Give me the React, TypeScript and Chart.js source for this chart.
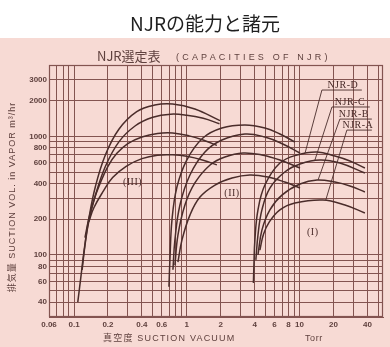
import { useEffect, useRef } from 'react';
import { Chart, registerables } from 'chart.js';

Chart.register(...registerables);

// Capacity curves: [suction vacuum (Torr), suction volume (m³/hr)]
// Range (III)
const njrD_III = [[0.108, 40], [0.115, 65], [0.123, 110], [0.135, 200], [0.155, 380], [0.19, 700], [0.25, 1150], [0.36, 1620], [0.52, 1840], [0.75, 1875], [1.18, 1700], [1.97, 1360]];
const njrC_III = [[0.118, 75], [0.125, 120], [0.135, 190], [0.155, 320], [0.19, 560], [0.25, 900], [0.35, 1230], [0.5, 1450], [0.72, 1540], [1.0, 1510], [1.4, 1420], [1.95, 1280]];
const njrB_III = [[0.125, 140], [0.135, 200], [0.15, 290], [0.17, 400], [0.2, 560], [0.24, 720], [0.3, 870], [0.4, 990], [0.55, 1060], [0.75, 1070], [1.05, 1010], [1.45, 920], [1.85, 840]];
const njrA_III = [[0.135, 190], [0.15, 250], [0.18, 340], [0.22, 450], [0.29, 560], [0.4, 650], [0.55, 695], [0.75, 700], [1.0, 680], [1.4, 630], [1.85, 575]];

// Range (II)
const njrD_II = [[0.695, 54], [0.709, 91], [0.739, 197], [0.818, 374], [1.0, 632], [1.39, 969], [2.05, 1177], [3.28, 1246], [4.93, 1177], [6.7, 1047], [9.1, 897]];
const njrC_II = [[0.754, 75], [0.785, 134], [0.87, 264], [1.067, 473], [1.45, 739], [2.05, 932], [3.28, 1047], [4.93, 988], [7.1, 863], [10.1, 724]];
const njrB_II = [[0.785, 82], [0.835, 147], [0.963, 264], [1.18, 405], [1.61, 574], [2.18, 670], [3.15, 724], [4.64, 697], [6.7, 632], [10.1, 541]];
const njrA_II = [[0.835, 87], [0.907, 134], [1.067, 217], [1.31, 308], [1.78, 389], [2.52, 446], [3.63, 473], [5.24, 455], [7.4, 412], [10.1, 367]];

// Range (I)
const njrD_I = [[3.9, 58], [3.94, 82], [4.02, 134], [4.28, 240], [4.93, 389], [6.7, 596], [9.5, 697], [14.3, 739], [20.6, 683], [28, 620], [38, 541]];
const njrC_I = [[4.1, 91], [4.28, 147], [4.64, 240], [5.46, 367], [7.4, 501], [10.1, 585], [15.2, 632], [22.8, 596], [38, 491]];
const njrB_I = [[4.28, 100], [4.64, 162], [5.46, 240], [6.98, 320], [10.1, 397], [14.3, 429], [20.6, 412], [28, 382], [38, 340]];
const njrA_I = [[4.45, 110], [4.8, 150], [5.4, 190], [6.7, 240], [9.1, 274], [16.1, 291], [25.3, 264], [38, 226]];

// Leader lines from the model names down to the range (I) curves
const leaderD = [[11.2, 724], [15.8, 2460], [35.7, 2460]];
const leaderC = [[13.7, 632], [19.4, 1770], [42, 1770]];
const leaderB = [[14.6, 429], [22.8, 1400], [43.8, 1400]];
const leaderA = [[17.1, 291], [26.3, 1130], [43.8, 1130]];

const modelNames = ['NJR-D', 'NJR-C', 'NJR-B', 'NJR-A'];
const rangeNames = ['(III)', '(II)', '(I)'];

// Log grid of the chart paper and the values that carry a printed label
const xGrid = [0.06, 0.07, 0.08, 0.09, 0.1, 0.2, 0.3, 0.4, 0.5, 0.6, 0.7, 0.8, 0.9, 1, 2, 3, 4, 5, 6, 7, 8, 9, 10, 20, 30, 40, 50];
const xLabels = [0.06, 0.1, 0.2, 0.4, 0.6, 1, 2, 4, 6, 8, 10, 20, 40];
const yGrid = [30, 40, 50, 60, 70, 80, 90, 100, 200, 300, 400, 500, 600, 700, 800, 900, 1000, 2000, 3000, 4000];
const yLabels = [40, 60, 80, 100, 200, 400, 600, 800, 1000, 2000, 3000];

const PAPER = '#f7dad4';
const GRID = '#835450';
const INK = '#4a2c2a';
const TEXT = '#5f413e';

const toPoints = (arr: number[][]) => arr.map(([x, y]) => ({ x, y }));

const curve = (data: number[][]) => ({
  data: toPoints(data),
  borderColor: INK,
  borderWidth: 1.5,
  pointRadius: 0,
  fill: false,
  tension: 0.4,
});

const leader = (data: number[][]) => ({
  data: toPoints(data),
  borderColor: INK,
  borderWidth: 0.9,
  pointRadius: 0,
  fill: false,
  tension: 0,
});

// where the model names and range names sit, in chart values
const modelNameAt = [[24.2, 2460], [28, 1770], [30.3, 1400], [32.9, 1130]];
const rangeNameAt = [[0.33, 412], [2.52, 333], [13.1, 156]];

const paperPlugin = {
  id: 'paper',
  beforeDraw(chart: any) {
    const { ctx, width, height } = chart;
    ctx.save();
    ctx.fillStyle = '#ffffff';
    ctx.fillRect(0, 0, width, height);
    ctx.fillStyle = PAPER;
    ctx.fillRect(0, 38, width, height - 38);
    ctx.restore();
  },
  afterDraw(chart: any) {
    const { ctx, chartArea: a, scales } = chart;
    const sx = scales.x;
    const sy = scales.y;
    ctx.save();

    // frame
    ctx.strokeStyle = GRID;
    ctx.lineWidth = 1.2;
    ctx.strokeRect(a.left + 0.5, a.top + 0.5, a.right - a.left - 1, a.bottom - a.top - 1);

    // page heading
    ctx.fillStyle = '#1f1f1f';
    ctx.font = '19px "Noto Sans CJK JP", "Noto Sans", sans-serif';
    ctx.textAlign = 'center';
    ctx.textBaseline = 'alphabetic';
    ctx.fillText('NJRの能力と諸元', 205, 31);

    // chart heading
    ctx.fillStyle = TEXT;
    ctx.textAlign = 'left';
    ctx.font = '13px "Noto Sans CJK JP", sans-serif';
    ctx.fillText('NJR選定表', 97, 61);
    ctx.font = '9px "Liberation Sans", sans-serif';
    (ctx as any).letterSpacing = '3.2px';
    ctx.fillText('(CAPACITIES OF NJR)', 176, 60);

    // axis titles
    (ctx as any).letterSpacing = '1.2px';
    ctx.font = '9px "Liberation Sans", "Noto Sans CJK JP", sans-serif';
    ctx.fillText('真空度 SUCTION VACUUM', 103, 341);
    (ctx as any).letterSpacing = '0.6px';
    ctx.fillText('Torr', 305, 341);

    ctx.save();
    ctx.translate(15, 197);
    ctx.rotate(-Math.PI / 2);
    ctx.textAlign = 'center';
    (ctx as any).letterSpacing = '1px';
    ctx.font = '9px "Liberation Sans", "Noto Sans CJK JP", sans-serif';
    ctx.fillText('排気量 SUCTION VOL. in VAPOR m³/hr', 0, 0);
    ctx.restore();

    // model names
    (ctx as any).letterSpacing = '0.5px';
    ctx.font = '10px "Liberation Serif", serif';
    ctx.textAlign = 'center';
    ctx.fillStyle = INK;
    modelNames.forEach((name, i) => {
      const [vx, vy] = modelNameAt[i];
      ctx.fillText(name, sx.getPixelForValue(vx), sy.getPixelForValue(vy) - 2);
    });

    // range names
    ctx.font = '10px "Liberation Serif", serif';
    ctx.textBaseline = 'middle';
    rangeNames.forEach((name, i) => {
      const [vx, vy] = rangeNameAt[i];
      ctx.fillText(name, sx.getPixelForValue(vx), sy.getPixelForValue(vy));
    });

    ctx.restore();
  },
};

const fmt = (v: number) => String(v);

export default function App() {
  const ref = useRef<HTMLCanvasElement>(null);

  useEffect(() => {
    if (!ref.current) return;
    const chart = new Chart(ref.current, {
      type: 'line',
      data: {
        datasets: [
          curve(njrD_III), curve(njrC_III), curve(njrB_III), curve(njrA_III),
          curve(njrD_II), curve(njrC_II), curve(njrB_II), curve(njrA_II),
          curve(njrD_I), curve(njrC_I), curve(njrB_I), curve(njrA_I),
          leader(leaderD), leader(leaderC), leader(leaderB), leader(leaderA),
        ] as any,
      },
      options: {
        responsive: false,
        animation: false,
        events: [],
        layout: { padding: { top: 65, right: 7, left: 0, bottom: 0 } },
        plugins: {
          legend: { display: false },
          tooltip: { enabled: false },
          title: { display: false },
        },
        scales: {
          x: {
            type: 'logarithmic',
            min: 0.06,
            max: 55,
            afterFit: (s: any) => { s.height = 30; },
            afterBuildTicks: (s: any) => { s.ticks = xGrid.map((value) => ({ value })); },
            ticks: {
              autoSkip: false,
              maxRotation: 0,
              minRotation: 0,
              padding: 3,
              color: TEXT,
              font: { family: '"Liberation Sans", sans-serif', size: 8, weight: 'bold' },
              callback: (v: any) => (xLabels.includes(Number(v)) ? fmt(Number(v)) : ''),
            },
            grid: { color: GRID, lineWidth: 1, drawTicks: false },
            border: { display: true, color: GRID, width: 1 },
          },
          y: {
            type: 'logarithmic',
            min: 30,
            max: 4000,
            afterFit: (s: any) => { s.width = 49; },
            afterBuildTicks: (s: any) => { s.ticks = yGrid.map((value) => ({ value })); },
            ticks: {
              autoSkip: false,
              padding: 2,
              color: TEXT,
              font: { family: '"Liberation Sans", sans-serif', size: 8, weight: 'bold' },
              callback: (v: any) => (yLabels.includes(Number(v)) ? fmt(Number(v)) : ''),
            },
            grid: { color: GRID, lineWidth: 1, drawTicks: false },
            border: { display: true, color: GRID, width: 1 },
          },
        },
      } as any,
      plugins: [paperPlugin],
    });
    return () => chart.destroy();
  }, []);

  return (
    <div style={{ position: 'absolute', left: 0, top: 0, width: 390, height: 347 }}>
      <canvas ref={ref} width={390} height={347} style={{ display: 'block' }} />
    </div>
  );
}
